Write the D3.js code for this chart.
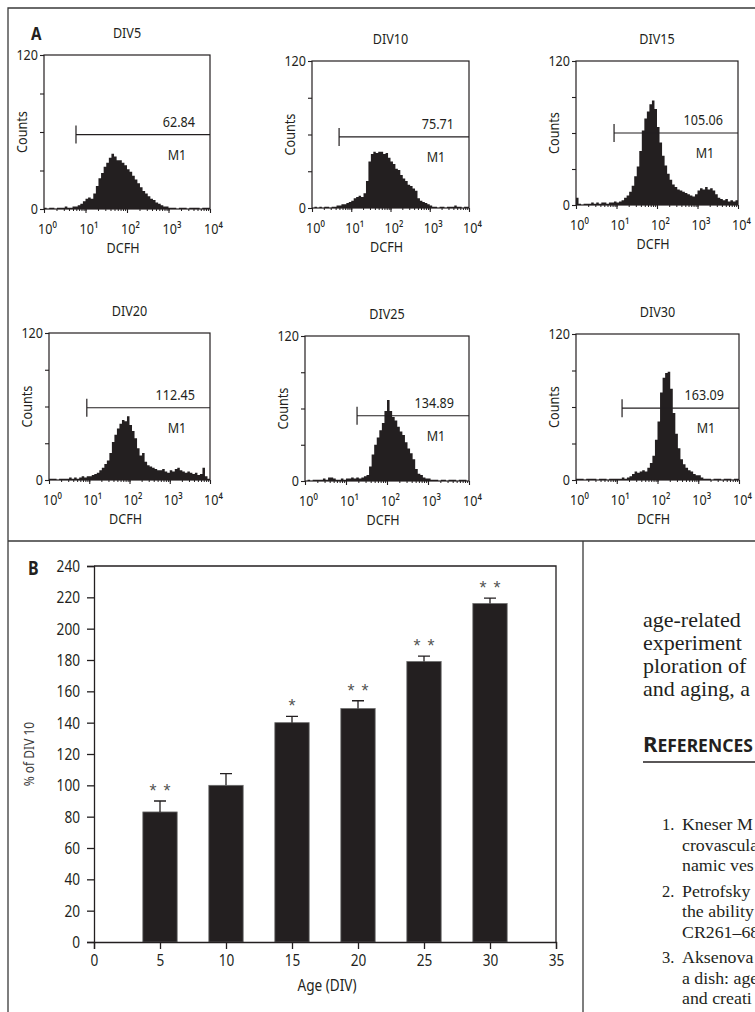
<!DOCTYPE html>
<html>
<head>
<meta charset="utf-8">
<script src="https://cdn.jsdelivr.net/npm/d3@7"></script>
<style>
  body { margin: 0; background: #fff; }
  svg { display: block; background: #fff; }
</style>
</head>
<body>
<svg id="fig" width="755" height="1012"></svg>
<script>
// --- Data ---
const divLabels = ["DIV5", "DIV10", "DIV15", "DIV20", "DIV25", "DIV30"];
const meanFluor = ["62.84", "75.71", "105.06", "112.45", "134.89", "163.09"];
// M1 gate: left end (DCFH channel) and height (counts)
const markerStart = [5.9, 4.9, 8.7, 8.7, 18.6, 13.5];
const markerCount = [58, 58, 60, 59, 54, 59];

// histogram counts, 16 bins per decade from 10^0 to 10^4
const binsPerDecade = 16;
const hist5 = [1,0,1,1,0,1,1,1,2,1,1,2,2,
  3,4,6,8,9,8,12,18,24,28,33,36,40,43,41,38,38,36,34,31,29,26,23,20,17,14,12,10,8,7,5,4,3,2,2,
  1,1,1,0,1,1,1,0,1,1,1,1,0,1,1,1];
const hist10 = [0,1,0,1,0,1,1,0,1,1,
  2,2,3,3,4,5,6,8,9,10,9,12,22,38,44,46,45,46,46,44,45,41,38,36,32,31,27,24,22,19,18,16,14,8,6,5,4,3,2,
  1,1,0,1,1,0,1,1,1,2,1,1,0,1,1];
const hist15 = [6,1,0,1,1,1,2,1,2,1,2,2,1,2,2,3,2,3,
  4,6,8,11,16,24,32,45,62,72,78,84,87,80,65,52,41,33,26,21,17,15,13,12,11,10,9,8,7,9,
  12,14,13,15,13,14,12,9,6,5,4,5,3,4,3,4];
const hist20 = [1,1,1,0,1,1,1,1,2,1,2,1,2,3,2,3,
  3,4,5,6,8,10,13,16,22,31,37,42,46,49,48,52,45,40,34,26,20,22,15,12,11,10,9,8,8,9,
  7,6,8,7,9,10,8,7,6,7,6,5,6,4,5,10,3,1];
const hist25 = [0,1,0,1,1,1,1,2,1,3,3,2,1,1,2,1,2,2,3,2,3,2,3,4,
  5,12,22,30,36,42,48,58,67,58,53,50,45,41,38,32,27,23,18,10,6,5,3,2,
  2,1,1,1,0,1,1,0,1,1,1,0,1,1,1,0];
const hist30 = [1,1,1,0,1,1,1,1,0,1,1,1,0,1,1,1,1,1,2,1,2,
  3,5,7,6,7,8,7,10,14,20,33,48,72,84,88,89,75,55,38,26,17,13,10,8,7,5,4,4,
  2,1,1,1,0,1,1,1,0,1,1,1,0,1,1];
const histograms = [hist5, hist10, hist15, hist20, hist25, hist30];

const countTicks = [0, 30, 60, 90, 120];
const countLabels = [0, 120];
const decadeTicks = [1, 10, 100, 1000, 10000];
const decadeLabels = ["10\u2070", "10\u00b9", "10\u00b2", "10\u00b3", "10\u2074"];

// panel B
const ages = [5, 10, 15, 20, 25, 30];
const pctDiv10 = [83, 100, 140, 149, 179, 216];
const semPct = [7, 7.5, 4, 5, 3.5, 3.5];
const stars = [2, 0, 1, 2, 2, 2];
const yTicksB = [0, 20, 40, 60, 80, 100, 120, 140, 160, 180, 200, 220, 240];
const xTicksB = [0, 5, 10, 15, 20, 25, 30, 35];

// page text
const bodyLines = ["age-related", "experiment", "ploration of", "and aging, a"];
const refLines = [
  ["1.", "Kneser M"], ["", "crovascula"], ["", "namic ves"],
  ["2.", "Petrofsky"], ["", "the ability"], ["", "CR261\u201368"],
  ["3.", "Aksenova"], ["", "a dish: age"], ["", "and creati"]
];

// --- Layout ---
const ink = "#231f20";
const sans = '"Noto Sans","Open Sans","DejaVu Sans",sans-serif';
const serif = '"Liberation Serif","DejaVu Serif",serif';
const svg = d3.select("#fig");

// squeeze or stretch text to the proportions of the printed typefaces
function fitWidth(sel, f) {
  sel.each(function () {
    const w = this.getComputedTextLength();
    if (w > 0) {
      this.setAttribute("textLength", (w * f).toFixed(1));
      this.setAttribute("lengthAdjust", "spacingAndGlyphs");
    }
  });
}

// individual histogram boxes (the scanned panels differ slightly)
const boxes = [
  { x0: 44,  x1: 210, y0: 55,  y1: 209 },
  { x0: 312, x1: 469, y0: 61,  y1: 208 },
  { x0: 576, x1: 738, y0: 61,  y1: 205 },
  { x0: 49,  x1: 210, y0: 333, y1: 480 },
  { x0: 305, x1: 469, y0: 336, y1: 481 },
  { x0: 576, x1: 739, y0: 334, y1: 480 }
];

// panel borders
svg.append("path")
  .attr("d", "M755,8H8V541H755M8,541V1012M583,541V1012")
  .attr("fill", "none")
  .attr("stroke", "#3a3a3a")
  .attr("stroke-width", 1.3);

svg.append("text").attr("class", "c").attr("x", 31).attr("y", 40)
  .attr("font-family", sans).attr("font-weight", "bold").attr("font-size", 18)
  .attr("fill", ink).text("A");

// --- Panel A: histograms ---
function drawHist(i) {
  const b = boxes[i];
  const x = d3.scaleLog().domain([1, 1e4]).range([b.x0, b.x1]);
  const y = d3.scaleLinear().domain([0, 120]).range([b.y1, b.y0]);
  const g = svg.append("g");
  const counts = histograms[i];

  const pts = counts.map((c, k) => [Math.pow(10, k / binsPerDecade), c]);
  pts.push([1e4, counts[counts.length - 1]]);

  g.append("path")
    .datum(pts)
    .attr("d", d3.area()
      .curve(d3.curveStepAfter)
      .x(d => x(d[0]))
      .y0(y(0))
      .y1(d => y(d[1])))
    .attr("fill", ink);

  g.append("rect")
    .attr("x", b.x0).attr("y", b.y0)
    .attr("width", b.x1 - b.x0).attr("height", b.y1 - b.y0)
    .attr("fill", "none").attr("stroke", ink).attr("stroke-width", 1.2);

  // y axis
  const ya = g.append("g")
    .attr("transform", `translate(${b.x0},0)`)
    .call(d3.axisLeft(y).tickValues(countTicks).tickSize(4).tickPadding(2)
      .tickFormat(d => countLabels.includes(d) ? d : ""));
  ya.select(".domain").remove();
  ya.selectAll("line").attr("stroke", ink).attr("stroke-width", 1.1);
  ya.selectAll("text").attr("class", "c").attr("font-family", sans)
    .attr("font-size", 15).attr("fill", ink);

  // x axis: minor then major ticks, labelled 10^n
  const xm = g.append("g")
    .attr("transform", `translate(0,${b.y1})`)
    .call(d3.axisBottom(x).tickValues(x.ticks()).tickSize(2).tickFormat(""));
  xm.select(".domain").remove();
  xm.selectAll("line").attr("stroke", ink);
  const xa = g.append("g")
    .attr("transform", `translate(0,${b.y1})`)
    .call(d3.axisBottom(x).tickValues(decadeTicks).tickSize(4).tickPadding(10)
      .tickFormat((d, k) => decadeLabels[k]));
  xa.select(".domain").remove();
  xa.selectAll("line").attr("stroke", ink).attr("stroke-width", 1.1);
  xa.selectAll("text").attr("class", "c").attr("dx", 3)
    .attr("font-family", sans).attr("font-size", 15).attr("fill", ink);

  g.append("text").attr("class", "c")
    .attr("x", (b.x0 + b.x1) / 2 - 4).attr("y", b.y1 + 44)
    .attr("text-anchor", "middle")
    .attr("font-family", sans).attr("font-size", 15).attr("fill", ink)
    .text("DCFH");

  g.append("text").attr("class", "c")
    .attr("transform", `translate(${b.x0 - 17},${(b.y0 + b.y1) / 2}) rotate(-90)`)
    .attr("text-anchor", "middle")
    .attr("font-family", sans).attr("font-size", 15).attr("fill", ink)
    .text("Counts");

  g.append("text").attr("class", "c")
    .attr("x", (b.x0 + b.x1) / 2).attr("y", b.y0 - 17)
    .attr("text-anchor", "middle")
    .attr("font-family", sans).attr("font-size", 15).attr("fill", ink)
    .text(divLabels[i]);

  // M1 gate
  const my = y(markerCount[i]);
  const mx = x(markerStart[i]);
  g.append("path")
    .attr("d", `M${mx},${my}H${b.x1}M${mx},${my - 9}V${my + 9}`)
    .attr("fill", "none").attr("stroke", ink).attr("stroke-width", 1.2);
  g.append("text").attr("class", "c")
    .attr("x", b.x1 - 15).attr("y", my - 8)
    .attr("text-anchor", "end")
    .attr("font-family", sans).attr("font-size", 15).attr("fill", ink)
    .text(meanFluor[i]);
  g.append("text").attr("class", "c")
    .attr("x", b.x1 - 33).attr("y", my + 25)
    .attr("text-anchor", "middle")
    .attr("font-family", sans).attr("font-size", 15).attr("fill", ink)
    .text("M1");
}
divLabels.forEach((d, i) => drawHist(i));

// --- Panel B: bar chart ---
const bx = d3.scaleLinear().domain([0, 35]).range([94, 556]);
const by = d3.scaleLinear().domain([0, 240]).range([942, 566]);
const gB = svg.append("g");
const barW = bx(2.6) - bx(0);

svg.append("text").attr("class", "c").attr("x", 28).attr("y", 575)
  .attr("font-family", sans).attr("font-weight", "bold").attr("font-size", 19)
  .attr("fill", ink).text("B");

gB.selectAll("rect.bar")
  .data(ages)
  .join("rect")
  .attr("class", "bar")
  .attr("x", d => bx(d) - barW / 2)
  .attr("y", (d, i) => by(pctDiv10[i]))
  .attr("width", barW)
  .attr("height", (d, i) => by(0) - by(pctDiv10[i]))
  .attr("fill", ink)
  .attr("stroke", "#6a6a6a")
  .attr("stroke-width", 0.8);

gB.selectAll("path.err")
  .data(ages)
  .join("path")
  .attr("class", "err")
  .attr("d", (d, i) => {
    const cx = bx(d), top = by(pctDiv10[i] + semPct[i]);
    return `M${cx},${by(pctDiv10[i])}V${top}M${cx - 6},${top}H${cx + 6}`;
  })
  .attr("fill", "none").attr("stroke", ink).attr("stroke-width", 1.3);

// significance stars
ages.forEach((a, i) => {
  const n = stars[i];
  const top = by(pctDiv10[i] + semPct[i]);
  for (let k = 0; k < n; k++) {
    const off = n === 2 ? (k === 0 ? -7 : 7) : 0;
    gB.append("text")
      .attr("x", bx(a) + off).attr("y", top - 4)
      .attr("text-anchor", "middle")
      .attr("font-family", '"Liberation Sans",sans-serif').attr("font-size", 18)
      .attr("fill", "#555")
      .text("*");
  }
});

const yaB = gB.append("g")
  .attr("transform", `translate(${bx(0)},0)`)
  .call(d3.axisLeft(by).tickValues(yTicksB).tickSize(7).tickPadding(7));
const xaB = gB.append("g")
  .attr("transform", `translate(0,${by(0)})`)
  .call(d3.axisBottom(bx).tickValues(xTicksB).tickSize(7).tickPadding(5));
[yaB, xaB].forEach(ax => {
  ax.select(".domain").attr("stroke", ink).attr("stroke-width", 1.3);
  ax.selectAll("line").attr("stroke", ink).attr("stroke-width", 1.3);
  ax.selectAll("text").attr("class", "cb").attr("font-family", sans)
    .attr("font-size", 17).attr("fill", ink);
});
// top and right edges of the plot frame
gB.append("path")
  .attr("d", `M${bx(0)},${by(240)}H${bx(35)}V${by(0)}`)
  .attr("fill", "none").attr("stroke", ink).attr("stroke-width", 1.3);

gB.append("text").attr("class", "cb")
  .attr("x", 327).attr("y", 991)
  .attr("text-anchor", "middle")
  .attr("font-family", sans).attr("font-size", 17).attr("fill", ink)
  .text("Age (DIV)");
gB.append("text").attr("class", "cb")
  .attr("transform", `translate(34,${(by(0) + by(240)) / 2}) rotate(-90)`)
  .attr("text-anchor", "middle")
  .attr("font-family", sans).attr("font-size", 15).attr("fill", "#3a3a3a")
  .text("% of DIV 10");

// --- Page text on the right ---
svg.selectAll("text.body")
  .data(bodyLines)
  .join("text")
  .attr("class", "body")
  .attr("x", 643)
  .attr("y", (d, i) => 627 + i * 23)
  .attr("font-family", serif).attr("font-size", 22).attr("fill", ink)
  .text(d => d);

const head = svg.append("text")
  .attr("x", 643).attr("y", 752)
  .attr("font-family", sans).attr("font-weight", "bold").attr("fill", ink);
head.append("tspan").attr("font-size", 22).text("R");
head.append("tspan").attr("font-size", 17.5).text("EFERENCES");
svg.append("line")
  .attr("x1", 643).attr("x2", 755).attr("y1", 762).attr("y2", 762)
  .attr("stroke", ink).attr("stroke-width", 1.4);

const refY = (d, i) => 830 + i * 20.5 + Math.floor(i / 3) * 5;
const refs = svg.selectAll("g.ref")
  .data(refLines)
  .join("g")
  .attr("class", "ref");
refs.append("text")
  .attr("x", 662)
  .attr("y", refY)
  .attr("font-family", serif).attr("font-size", 16.5).attr("fill", ink)
  .text(d => d[0]);
const refTxt = refs.append("text")
  .attr("x", 682)
  .attr("y", refY)
  .attr("font-family", serif).attr("font-size", 16.5).attr("fill", ink)
  .text(d => d[1]);

// typeface proportions
fitWidth(svg.selectAll("text.c"), 0.84);
fitWidth(svg.selectAll("text.cb"), 0.8);
fitWidth(refTxt, 1.08);
</script>
</body>
</html>
